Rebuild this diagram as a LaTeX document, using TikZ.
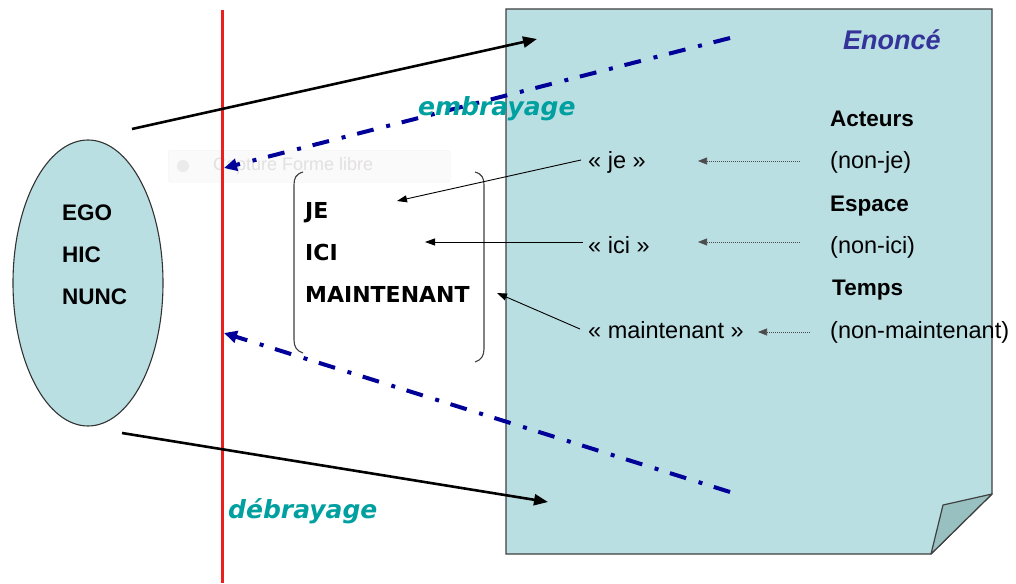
\documentclass[tikz,border=0pt]{standalone}
\usepackage{fontspec}
\setmainfont{Liberation Sans}
\newfontfamily\comic{DejaVu Sans}
\usetikzlibrary{arrows.meta,shapes.geometric}
\definecolor{paper}{HTML}{BADFE3}
\definecolor{foldc}{HTML}{98C0C0}
\definecolor{navy}{HTML}{000099}
\definecolor{tealtxt}{HTML}{00A0A0}
\definecolor{redline}{HTML}{E8201E}
\definecolor{enoncec}{HTML}{333399}
\begin{document}
\begin{tikzpicture}[x=1pt,y=-1pt,
  lbl/.style={font=\fontsize{23.5}{27}\selectfont, anchor=base west, inner sep=0pt},
  hd/.style={font=\bfseries\fontsize{22.5}{26}\selectfont, anchor=base west, inner sep=0pt},
  egotxt/.style={font=\bfseries\fontsize{22.5}{26}\selectfont, anchor=base west, inner sep=0pt},
  cmtxt/.style={font=\comic\bfseries\fontsize{22}{26}\selectfont, anchor=base west, inner sep=0pt},
  brayage/.style={font=\comic\bfseries\itshape\fontsize{25}{29}\selectfont, text=tealtxt, anchor=base west, inner sep=0pt},
  dashdot/.style={navy, line width=4pt, dash pattern=on 17pt off 12pt on 4pt off 13pt, -{Triangle[length=13pt,width=12pt]}},
  bigarrow/.style={black, line width=2.6pt, -{Triangle[length=14pt,width=11pt]}},
  thinarrow/.style={black, line width=0.9pt, -{Triangle[length=10pt,width=7pt]}},
  dotarrow/.style={black!70, line width=0.7pt, dash pattern=on 0.8pt off 1.2pt, -{Triangle[length=9pt,width=7pt]}},
  bracket/.style={black!75, line width=1.1pt}
]
\useasboundingbox (0,0) rectangle (1016,583);
\fill[white] (0,0) rectangle (1016,583);

% faint overlay box
\node[draw=black!5, fill=black!2, rounded corners=3pt, minimum width=282pt, minimum height=32pt, anchor=north west, inner sep=0pt] (capbox) at (168,150) {};
\fill[black!8] (183,166) circle (6);
\node[font=\fontsize{18}{20}\selectfont, text=red!6!black!12, anchor=west, inner sep=0pt] (captxt) at (213,166) {Capture Forme libre};

% Enonce sheet
\draw[fill=paper, draw=black!75, line width=1.2pt] (506,9) -- (992,9) -- (992,494) -- (931,554) -- (506,554) -- cycle;
\draw[fill=foldc, draw=black!75, line width=1.2pt, line join=round] (992,494) -- (943,505) -- (931,554) -- cycle;
\node[font=\bfseries\itshape\fontsize{27}{31}\selectfont, text=enoncec, anchor=base west, inner sep=0pt] (enonce) at (843,50) {Enoncé};

% ellipse
\node[ellipse, draw=black!80, line width=1.1pt, fill=paper, minimum width=150pt, minimum height=286pt, inner sep=0pt] (ego) at (88,283) {};
\node[egotxt] (egot) at (62,220) {EGO};
\node[egotxt] (hict) at (62,262) {HIC};
\node[egotxt] (nunct) at (62,304) {NUNC};

% red line
\coordinate (rtop) at (222,10);
\coordinate (rbot) at (222,583);
\draw[redline, line width=3pt] (rtop) -- (rbot);

% brackets
\draw[bracket] (303,172) .. controls (296,174) and (294,178) .. (294,185) -- (294,340) .. controls (294,347) and (297,351) .. (303,353);
\draw[bracket] (475,172) .. controls (482,174) and (484,178) .. (484,185) -- (484,349) .. controls (484,356) and (481,360) .. (475,362);

% JE ICI MAINTENANT
\node[cmtxt] (JE) at (305,218) {JE};
\node[cmtxt] (ICI) at (305,260) {ICI};
\node[cmtxt] (MAINT) at (305,302) {MAINTENANT};

% big arrows
\coordinate (upS) at (132,129);
\coordinate (upE) at (537,39);
\draw[bigarrow] (upS) -- (upE);
\coordinate (loS) at (122,433);
\coordinate (loE) at (548,502);
\draw[bigarrow] (loS) -- (loE);

% dash-dot arrows
\coordinate (d1S) at (730,38);
\coordinate (d1E) at (224,168);
\draw[dashdot] (d1S) -- (d1E);
\coordinate (d2S) at (730,492);
\coordinate (d2E) at (224,333);
\draw[dashdot] (d2S) -- (d2E);

\node[brayage] (embr) at (418,115) {embrayage};
\node[brayage] (debr) at (228,518) {débrayage};

% quoted words
\node[lbl] (qje) at (588,168) {« je »};
\node[lbl] (qici) at (588,253) {« ici »};
\node[lbl] (qmaint) at (588,338) {« maintenant »};

% right column
\node[hd] (act) at (830,126) {Acteurs};
\node[lbl] (nje) at (830,168) {(non-je)};
\node[hd] (esp) at (830,211) {Espace};
\node[lbl] (nici) at (830,253) {(non-ici)};
\node[hd] (tps) at (832,295) {Temps};
\node[lbl] (nmaint) at (830,338) {(non-maintenant)};

% thin arrows
\coordinate (a1S) at (581,160);
\coordinate (a1E) at (397,201);
\draw[thinarrow] (a1S) -- (a1E);
\coordinate (a2S) at (583,242);
\coordinate (a2E) at (425,242);
\draw[thinarrow] (a2S) -- (a2E);
\coordinate (a3S) at (580,329);
\coordinate (a3E) at (497,293);
\draw[thinarrow] (a3S) -- (a3E);

% dotted arrows
\coordinate (b1S) at (800,161);
\coordinate (b1E) at (698,161);
\draw[dotarrow] (b1S) -- (b1E);
\coordinate (b2S) at (800,242);
\coordinate (b2E) at (698,242);
\draw[dotarrow] (b2S) -- (b2E);
\coordinate (b3S) at (810,332);
\coordinate (b3E) at (758,332);
\draw[dotarrow] (b3S) -- (b3E);
\end{tikzpicture}
\end{document}
